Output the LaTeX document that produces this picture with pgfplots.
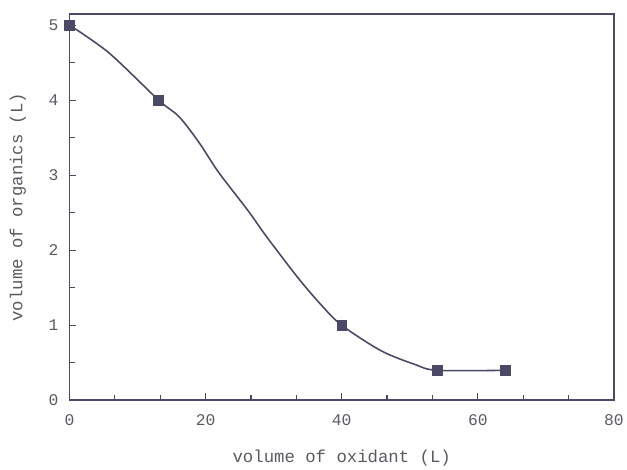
\documentclass[border=0pt]{standalone}
\usepackage{pgfplots}
\pgfplotsset{compat=1.18}
\usepackage{fontspec}
\setmainfont{Liberation Mono}
\definecolor{lineInk}{HTML}{4A4A66}
\definecolor{textInk}{HTML}{5A5A64}

\begin{document}
\begin{tikzpicture}
\begin{axis}[
  scale only axis,
  width=548bp, height=389bp,
  xmin=0, xmax=80, ymin=0, ymax=5.15,
  xtick={0,20,40,60,80}, ytick={0,1,2,3,4,5},
  minor xtick={6.667,13.333,26.667,33.333,46.667,53.333,66.667,73.333},
  minor ytick={0.5,1.5,2.5,3.5,4.5},
  tick pos=left,
  tick align=inside,
  major tick length=7bp, minor tick length=5bp,
  axis line style={draw=lineInk, line width=1.9pt},
  tick style={draw=lineInk, line width=1.2pt},
  tick label style={font=\fontsize{16.5}{19}\selectfont\color{textInk}},
  /pgf/number format/assume math mode=true,
  xticklabel style={anchor=center, yshift=-20bp},
  yticklabel style={anchor=center, xshift=-16bp},
  xlabel={volume of oxidant (L)},
  ylabel={volume of organics (L)},
  label style={font=\fontsize{17.5}{20}\selectfont\color{textInk}},
  xlabel style={at={(axis description cs:0.5,0)}, anchor=center, yshift=-58bp},
  ylabel style={at={(axis description cs:0,0.5)}, anchor=center, rotate=0, yshift=52bp},
  clip=false,
]
% curve
\addplot[lineInk, line width=1.6pt, smooth, tension=0.5] coordinates {
  (0,5) (5.8,4.63) (13.1,4.0) (16.1,3.78) (19,3.44) (21.9,3.04) (26.3,2.52)
  (28.8,2.2) (33.6,1.63) (37,1.27) (40,1.0) (45.8,0.66) (50.7,0.48) (54,0.4) (64,0.4)};
% measured points
\addplot[only marks, mark=square*, mark size=5bp, mark options={fill=lineInk, draw=lineInk}]
  coordinates {(0,5) (13,4) (40,1) (54,0.4) (64,0.4)};
\end{axis}
\path ([xshift=-70bp,yshift=-68bp]current axis.south west)
  rectangle ([xshift=9bp,yshift=14bp]current axis.north east);
\end{tikzpicture}
\end{document}
